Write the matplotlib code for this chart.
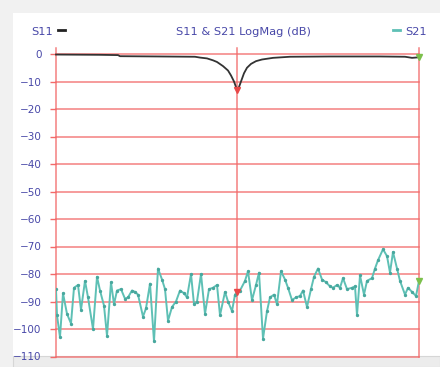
import numpy as np
import matplotlib.pyplot as plt
from matplotlib.patches import Rectangle
from matplotlib.lines import Line2D

# sweep points (arbitrary units across the span) and traces in dB
s11_freq = [0, 44, 62, 64, 104, 139, 144, 151, 157, 161, 167, 172, 175, 178, 180,
            181, 183, 185, 188, 191, 195, 200, 206, 217, 234, 274, 324, 349, 356, 363]
s11_db = [-0.2, -0.3, -0.4, -0.8, -0.9, -1.0, -1.3, -1.6, -2.3, -2.9, -4.4, -6.0, -7.8,
          -10.0, -12.0, -13.0, -12.0, -10.0, -7.0, -5.0, -3.6, -2.6, -2.0, -1.4, -1.0,
          -0.9, -0.9, -1.0, -1.4, -1.2]

s21_freq = [0, 1, 4, 7, 11, 15, 18, 22, 25, 29, 32, 37, 41, 44, 48, 51, 55, 58, 61, 65,
            69, 72, 76, 79, 82, 87, 90, 94, 98, 102, 106, 109, 112, 116, 120, 124, 128,
            131, 135, 138, 141, 145, 149, 153, 157, 161, 164,
            169, 172, 176, 179, 181, 184, 189, 192, 196, 200, 203, 207, 211, 214, 218,
            221, 225, 229, 232, 236, 240, 244, 247, 251, 255, 258, 262, 266, 270, 274,
            277, 281, 284, 287, 291, 296, 299, 301, 304, 308, 311, 316, 319, 322, 327,
            331, 334, 337, 341, 344, 349, 352, 356, 360, 363]
s21_db = [-85.6, -95, -103, -87, -94.5, -98, -85, -84, -93, -82.5, -88.5, -100, -81, -86,
          -91.5, -102.5, -83, -91, -86, -85.5, -89, -88.5, -86, -86.5, -87.5, -95.5, -92.5,
          -83.5, -104.5, -78, -82, -85.5, -97, -92, -90, -86, -87, -88.5, -80, -91, -90,
          -80, -94.5, -85.5, -85, -84, -95,
          -86.5, -90, -93.5, -87.5, -86.5, -86, -82.5, -79, -89.5, -84, -79.5, -103.5,
          -93.5, -88.5, -87.5, -91, -79, -82, -85, -89.5, -88.5, -88, -86, -92, -85.5,
          -81, -78, -82, -83, -84.5, -85, -84, -85, -81.5, -85.5, -85, -84.5, -95, -80.5,
          -87.5, -82.5, -81.5, -78, -75, -71, -73.5, -79.5, -72, -78, -82.5, -87.5, -85,
          -86.5, -88, -82.5]

y_ticks = list(range(0, -111, -10))
span = (0, 363)
center = 181

red = '#f26a6a'
label_col = '#4848a8'
teal = '#5ec0b5'

fig = plt.figure(figsize=(4.4, 3.67), dpi=100, facecolor='#f1f1f1')
W, H = 440, 367

# white panel and bottom status strip
fig.patches.append(Rectangle((13 / W, 11 / H), 427 / W, 343 / H, transform=fig.transFigure,
                             facecolor='white', edgecolor='none', zorder=-5))
fig.patches.append(Rectangle((13 / W, 0), 427 / W, 11 / H, transform=fig.transFigure,
                             facecolor='#ececec', edgecolor='#d6d6d6', lw=0.8, zorder=-5))

ax = fig.add_axes([56 / W, 10.5 / H, 363 / W, 302.5 / H])
ax.set_facecolor('none')
ax.set_xlim(*span)
ax.set_ylim(-110, 0)
for sp in ax.spines.values():
    sp.set_visible(False)

ax.set_yticks(y_ticks)
ax.set_xticks([])
ax.tick_params(axis='y', length=4.5, width=1.0, color=red, pad=6,
               labelsize=7.5, labelcolor=label_col)
for t in y_ticks:
    ax.axhline(t, color=red, lw=1.1, alpha=0.85, zorder=1, clip_on=False)
for xv in (span[0], center, span[1]):
    ax.axvline(xv, ymin=0, ymax=1.02, color=red, lw=1.1, alpha=0.85, zorder=1, clip_on=False)

ax.plot(s11_freq, s11_db, color='#333333', lw=1.3, zorder=3, clip_on=False)
ax.plot(s21_freq, s21_db, color=teal, lw=1.4, zorder=3, marker='o', ms=1.4,
        mec='#48a89e', mfc='#48a89e')

# markers at the centre and end of the sweep
i11 = s11_freq.index(center)
i21 = s21_freq.index(center)
ax.plot(s11_freq[i11], s11_db[i11], marker='v', ms=5, color='#e84848', zorder=4)
ax.plot(s21_freq[i21], s21_db[i21], marker='v', ms=5, color='#e84848', zorder=4)
ax.plot(s11_freq[-1], s11_db[-1], marker='v', ms=5, color='#7cc04c', zorder=4, clip_on=False)
ax.plot(s21_freq[-1], s21_db[-1], marker='v', ms=5, color='#7cc04c', zorder=4, clip_on=False)

# header row
ty = 1 - 32 / H
fig.text(31 / W, ty, 'S11', color=label_col, fontsize=8.2, va='center')
fig.text(243 / W, ty, 'S11 & S21 LogMag (dB)', color=label_col, fontsize=8.2,
         va='center', ha='center')
fig.text(405 / W, ty, 'S21', color=label_col, fontsize=8.2, va='center')
fig.lines.append(Line2D([58 / W, 65 / W], [1 - 29.5 / H] * 2, transform=fig.transFigure,
                        color='#222222', lw=2.0))
fig.lines.append(Line2D([393 / W, 400 / W], [1 - 29.5 / H] * 2, transform=fig.transFigure,
                        color=teal, lw=2.0))

fig.savefig('out.png', dpi=100, facecolor=fig.get_facecolor())
